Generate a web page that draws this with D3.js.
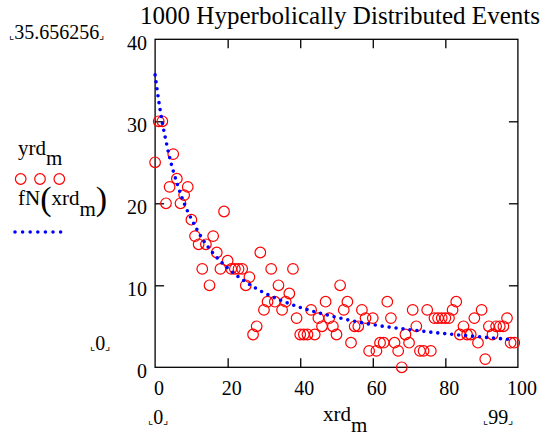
<!DOCTYPE html>
<html>
<head>
<meta charset="utf-8">
<script src="https://cdn.jsdelivr.net/npm/d3@7"></script>
<style>
  body { margin: 0; background: #fff; }
</style>
</head>
<body>
<div id="vis"></div>
<script>
// yrd_m: event counts for m = 0..99
const yrd = [25, 30, 30, 20, 22, 26, 23, 20, 21, 22,
    18, 16, 15, 12, 15, 10, 16, 14, 12, 19,
    13, 12, 12, 12, 12, 10, 11, 4, 5, 14,
    7, 8, 12, 8, 10, 7, 8, 9, 12, 6,
    4, 4, 4, 7, 4, 6, 5, 8, 6, 5,
    4, 10, 7, 8, 3, 5, 5, 7, 6, 2,
    6, 2, 3, 3, 8, 6, 3, 2, 0, 4,
    3, 7, 5, 2, 2, 7, 2, 6, 6, 6,
    6, 6, 7, 8, 4, 5, 4, 4, 6, 3,
    7, 1, 5, 4, 5, 5, 5, 6, 3, 3];
const xrd = yrd.map((d, i) => i);

// fN(xrd_m)
const fnX = [0, 1, 2, 3, 4, 6, 8, 10, 13, 16, 20, 25, 30, 35, 40, 50, 60, 70, 80, 90, 99];
const fnY = [35.66, 32.5, 29.8, 27.6, 25.6, 22.5, 20.0, 18.1, 15.7, 13.9, 12.1, 10.4, 9.1, 8.1, 7.3, 6.1, 5.2, 4.6, 4.1, 3.7, 3.35];

const xTicks = [0, 20, 40, 60, 80, 100];
const yTicks = [0, 10, 20, 30, 40];

const W = 545, H = 437;
const plot = { left: 155.1, right: 517.9, top: 39.3, bottom: 367.3 };
const SERIF = '"Liberation Serif", "Times New Roman", serif';

const svg = d3.select('#vis').append('svg')
    .attr('width', W)
    .attr('height', H)
    .attr('font-family', SERIF);

const x = d3.scaleLinear().domain([0, 100]).range([plot.left, plot.right]);
const y = d3.scaleLinear().domain([0, 40]).range([plot.bottom, plot.top]);

// title
svg.append('text')
    .attr('x', 140)
    .attr('y', 24)
    .attr('textLength', 400)
    .attr('font-family', SERIF)
    .attr('font-size', 25)
    .text('1000 Hyperbolically Distributed Events');

// axes with inward ticks
const inner = v => v > 0 && v < 100;
const bottomAx = svg.append('g')
    .attr('transform', `translate(0,${plot.bottom})`)
    .call(d3.axisBottom(x).tickValues(xTicks).tickSize(-9).tickFormat(d3.format('d')))
    .attr('font-family', SERIF)
    .attr('font-size', 20);
bottomAx.selectAll('.tick text')
    .attr('y', 28).attr('dy', 0).attr('x', 3.5);
bottomAx.selectAll('.tick line').attr('display', d => inner(d) ? null : 'none');

const topAx = svg.append('g')
    .attr('transform', `translate(0,${plot.top})`)
    .call(d3.axisTop(x).tickValues(xTicks).tickSize(-9).tickFormat(''));
topAx.selectAll('.tick line').attr('display', d => inner(d) ? null : 'none');

const leftAx = svg.append('g')
    .attr('transform', `translate(${plot.left},0)`)
    .call(d3.axisLeft(y).tickValues(yTicks).tickSize(-9).tickFormat(d3.format('d')))
    .attr('font-family', SERIF)
    .attr('font-size', 20);
leftAx.selectAll('.tick text')
    .attr('x', -8).attr('dy', 0).attr('y', 10);
leftAx.selectAll('.tick line').attr('display', d => d > 0 && d < 40 ? null : 'none');

const rightAx = svg.append('g')
    .attr('transform', `translate(${plot.right},0)`)
    .call(d3.axisRight(y).tickValues(yTicks).tickSize(-9).tickFormat(''));
rightAx.selectAll('.tick line').attr('display', d => d > 0 && d < 40 ? null : 'none');

svg.selectAll('.domain').remove();
svg.selectAll('.tick text').attr('fill', '#000');
svg.selectAll('.tick line').attr('stroke', '#000').attr('stroke-width', 1.3);

svg.append('rect')
    .attr('x', plot.left)
    .attr('y', plot.top)
    .attr('width', plot.right - plot.left)
    .attr('height', plot.bottom - plot.top)
    .attr('fill', 'none')
    .attr('stroke', '#000')
    .attr('stroke-width', 1.3);

// data
svg.append('g')
    .selectAll('circle')
    .data(xrd)
    .join('circle')
    .attr('cx', d => x(d))
    .attr('cy', d => y(yrd[d]))
    .attr('r', 5.3)
    .attr('fill', 'none')
    .attr('stroke', '#ff0000')
    .attr('stroke-width', 1.2);

const line = d3.line()
    .x(d => x(d[0]))
    .y(d => y(d[1]))
    .curve(d3.curveMonotoneX);

svg.append('path')
    .datum(d3.zip(fnX, fnY))
    .attr('d', line)
    .attr('fill', 'none')
    .attr('stroke', '#0000ff')
    .attr('stroke-width', 3.6)
    .attr('stroke-linecap', 'round')
    .attr('stroke-dasharray', '0 7');

// range markers
function marker(px, py, label) {
    const t = svg.append('text').attr('x', px).attr('y', py)
        .attr('font-family', SERIF).attr('font-size', 20);
    t.append('tspan').attr('font-size', 11).attr('font-family', 'DejaVu Sans').text('⌞');
    t.append('tspan').text(label);
    t.append('tspan').attr('font-size', 11).attr('font-family', 'DejaVu Sans').text('⌟');
}
marker(9, 39, '35.656256');
marker(90, 350, '0');
marker(148, 424, '0');
marker(483, 424, '99');

// axis label
const xl = svg.append('text').attr('x', 323).attr('y', 421)
    .attr('font-family', SERIF).attr('font-size', 21);
xl.append('tspan').text('xrd');
xl.append('tspan').attr('dy', 11).text('m');

// legend
const l1 = svg.append('text').attr('x', 18).attr('y', 155)
    .attr('font-family', SERIF).attr('font-size', 21);
l1.append('tspan').text('yrd');
l1.append('tspan').attr('dy', 10).text('m');

svg.append('g')
    .selectAll('circle')
    .data([20.7, 40, 59.3])
    .join('circle')
    .attr('cx', d => d)
    .attr('cy', 179)
    .attr('r', 5.3)
    .attr('fill', 'none')
    .attr('stroke', '#ff0000')
    .attr('stroke-width', 1.2);

const l2 = svg.append('text').attr('x', 18).attr('y', 205)
    .attr('font-family', SERIF).attr('font-size', 21);
l2.append('tspan').text('fN');
l2.append('tspan').attr('font-size', 34).attr('dy', 5).text('(');
l2.append('tspan').attr('dy', -5).text('xrd');
l2.append('tspan').attr('dy', 11).text('m');
l2.append('tspan').attr('font-size', 34).attr('dy', -6).text(')');

svg.append('line')
    .attr('x1', 15).attr('x2', 61)
    .attr('y1', 232).attr('y2', 232)
    .attr('stroke', '#0000ff')
    .attr('stroke-width', 3.6)
    .attr('stroke-linecap', 'round')
    .attr('stroke-dasharray', '0 7.6');
</script>
</body>
</html>
